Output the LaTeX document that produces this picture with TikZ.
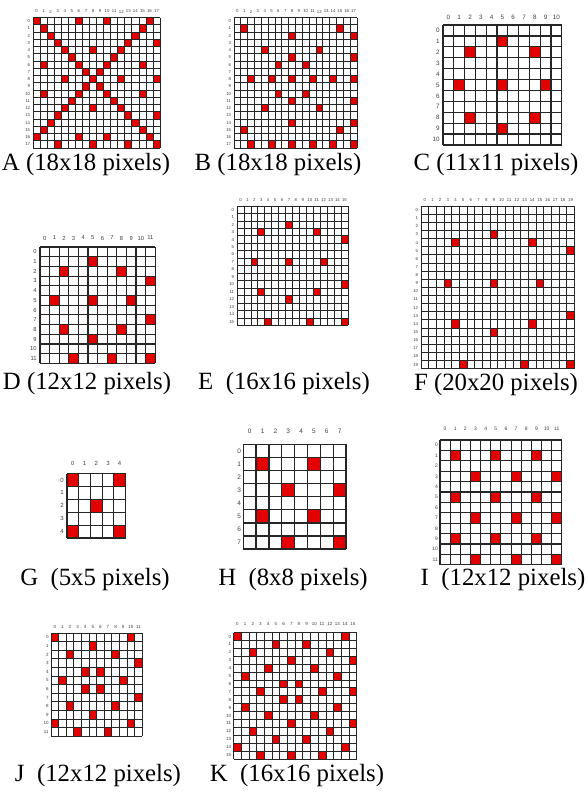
\documentclass[tikz,border=0pt]{standalone}
\usepackage{fontspec}
\setmainfont{Liberation Serif}
\newfontfamily\hdrfont{Liberation Sans}
\definecolor{pixred}{RGB}{226,0,0}
\tikzset{
  pixcell/.style={fill=pixred},
  hdrtxt/.style={inner sep=0pt, text=black!75},
  captxt/.style={inner sep=0pt, font=\fontsize{24.8}{30}\selectfont},
}
\def\hgap{6}\def\vgap{4}
% #1 name #2 x0 #3 y0 #4 cw #5 ch #6 n #7 reds (r/c) #8 label font size #9 line width
\newcommand{\pixgrid}[9]{%
  \pgfmathtruncatemacro{\nmo}{#6-1}%
  \foreach \r/\c in {#7} {\fill[pixcell] (#2+\c*#4, #3+\r*#5) rectangle ++(#4,#5);}
  \foreach \i in {0,...,#6} {
    \draw[line width=#9, black!85] (#2+\i*#4, #3) -- ++(0, #6*#5);
    \draw[line width=#9, black!85] (#2, #3+\i*#5) -- ++(#6*#4, 0);
  }
  \foreach \i in {0,...,\nmo} {
    \node[hdrtxt, font=\hdrfont\fontsize{#8}{#8}\selectfont] (#1-h\i) at (#2+\i*#4+0.5*#4, #3-\hgap) {\i};
    \node[hdrtxt, anchor=east, font=\hdrfont\fontsize{#8}{#8}\selectfont] (#1-v\i) at (#2-\vgap+0.3*#8, #3+\i*#5+0.5*#5) {\i};
  }
}
\begin{document}
\begin{tikzpicture}[x=1pt, y=-1pt]
\useasboundingbox[fill=white] (0,0) rectangle (587,798);
% A
\def\hgap{6}\def\vgap{4}
\pixgrid{A}{33}{17.5}{7.06}{7.25}{18}{0/0,1/1,2/2,3/3,4/4,5/5,6/6,7/7,8/8,9/9,10/10,11/11,12/12,13/13,14/14,15/15,16/16,17/17,
  0/16,1/15,2/14,3/13,4/12,5/11,6/10,7/9,9/7,10/6,11/5,12/4,13/3,14/2,15/1,16/0,
  0/6,0/10,16/6,16/10,6/1,6/15,10/1,10/15,4/8,8/4,8/12,12/8,17/3,17/8,17/13,3/17,8/17,13/17}{4.3}{0.7}
% B
\pixgrid{B}{234}{17.5}{6.83}{7.25}{18}{1/1,1/15,2/8,2/17,4/4,4/12,5/8,5/17,6/6,6/10,
  8/2,8/5,8/8,8/11,8/14,8/17,10/6,10/10,11/8,11/17,12/4,12/12,14/8,14/17,15/1,15/15,
  17/2,17/5,17/8,17/11,17/14,17/17}{4.3}{0.7}
% C
\def\hgap{7.5}\def\vgap{5}
\pixgrid{C}{443}{25}{10.8}{10.9}{11}{1/5,2/2,2/8,5/1,5/5,5/9,8/2,8/8,9/5}{6.3}{1.2}
% D
\def\hgap{9}\def\vgap{5}
\pixgrid{D}{40}{247}{9.6}{9.7}{12}{1/5,2/2,2/8,3/11,5/1,5/5,5/9,7/11,8/2,8/8,9/5,11/3,11/7,11/11}{5.8}{1.1}
% E
\def\hgap{6}\def\vgap{4}
\pixgrid{E}{237}{206}{6.93}{7.46}{16}{2/7,3/3,3/11,4/15,7/2,7/7,7/12,10/15,11/3,11/11,12/7,15/4,15/10,15/15}{4.3}{0.7}
% F
\pixgrid{F}{421}{206}{7.67}{8.13}{20}{3/9,4/4,4/14,5/19,9/3,9/9,9/15,13/19,14/4,14/14,15/9,19/5,19/13,19/19}{4.3}{0.7}
% G
\def\hgap{10}\def\vgap{5}
\pixgrid{G}{67}{473.5}{11.7}{12.9}{5}{0/0,0/4,2/2,4/0,4/4}{6}{1.2}
% H
\def\hgap{13}\def\vgap{4}
\pixgrid{H}{243.3}{444.3}{12.84}{13.1}{8}{1/1,1/5,3/3,3/7,5/1,5/5,7/3,7/7}{6.5}{1.3}
% I
\def\hgap{11}\def\vgap{3.5}
\pixgrid{I}{440}{440}{10.15}{10.4}{12}{1/1,1/5,1/9,3/3,3/7,3/11,5/1,5/5,5/9,7/3,7/7,7/11,9/1,9/5,9/9,11/3,11/7,11/11}{5}{1.1}
% J
\def\hgap{6.5}\def\vgap{3.5}
\pixgrid{J}{51}{633}{7.6}{8.6}{12}{0/0,0/10,1/5,2/2,2/8,3/11,4/4,4/6,5/1,5/9,6/4,6/6,7/11,8/2,8/8,9/5,10/0,10/10,11/3,11/7}{4.5}{0.8}
% K
\def\hgap{8.5}\def\vgap{3.5}
\pixgrid{K}{233.5}{632.5}{7.7}{7.9}{16}{0/0,0/14,1/5,1/9,2/2,2/12,3/7,3/15,4/4,4/10,5/1,5/13,6/6,6/8,7/3,7/11,7/15,8/6,8/8,9/1,9/13,10/4,10/10,11/7,11/15,12/2,12/12,13/5,13/9,14/0,14/14,15/3,15/7,15/11}{4.5}{0.8}
% captions
\node[captxt] (capA) at (86,165) {A (18x18 pixels)};
\node[captxt] (capB) at (278,165) {B (18x18 pixels)};
\node[captxt] (capC) at (496,165) {C (11x11 pixels)};
\node[captxt] (capD) at (87,384) {D (12x12 pixels)};
\node[captxt] (capE) at (284,384) {E\ \ (16x16 pixels)};
\node[captxt] (capF) at (496,385) {F (20x20 pixels)};
\node[captxt] (capG) at (95,580) {G\ \ (5x5 pixels)};
\node[captxt] (capH) at (293,580) {H\ \ (8x8 pixels)};
\node[captxt] (capI) at (503,580) {I\ \ (12x12 pixels)};
\node[captxt] (capJ) at (98,776) {J\ \ (12x12 pixels)};
\node[captxt] (capK) at (297,776) {K\ \ (16x16 pixels)};
\end{tikzpicture}
\end{document}
